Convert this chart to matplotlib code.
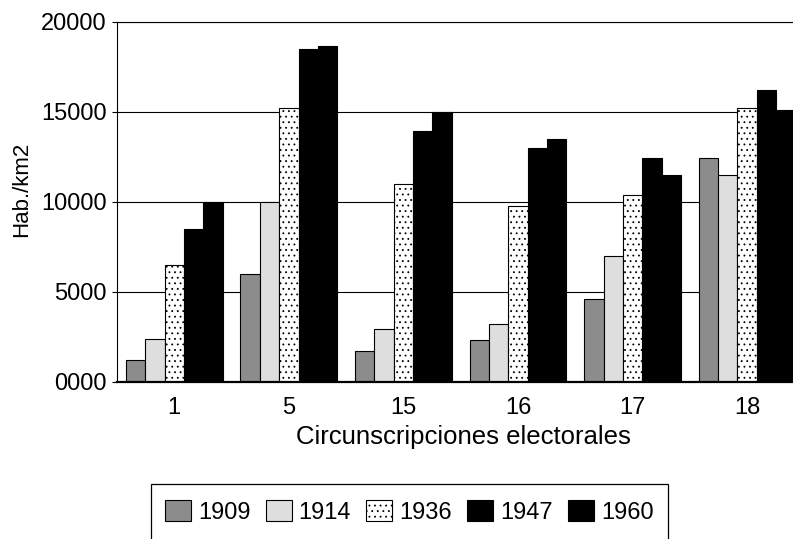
import numpy as np
import matplotlib
matplotlib.use("Agg")
import matplotlib.pyplot as plt
from matplotlib.patches import Rectangle

plt.rcParams['font.family'] = ['Liberation Sans', 'DejaVu Sans']
plt.rcParams['hatch.linewidth'] = 0.6

circunscripciones = ['1', '5', '15', '16', '17', '18']
years = ['1909', '1914', '1936', '1947', '1960']

# Hab./km2 per circunscripcion, one list per year
d1909 = [1200, 6000, 1700, 2350, 4600, 12450]
d1914 = [2400, 10000, 2950, 3200, 7000, 11500]
d1936 = [6500, 15200, 11000, 9750, 10400, 15200]
d1947 = [8500, 18500, 13950, 13000, 12450, 16200]
d1960 = [10000, 18650, 15000, 13500, 11500, 15100]

yticks = [0, 5000, 10000, 15000, 20000]
ytick_labels = ['0000', '5000', '10000', '15000', '20000']

series = [d1909, d1914, d1936, d1947, d1960]
faces = ['#8c8c8c', '#dedede', 'white', 'black', 'black']
hatches = [None, None, '...', None, None]

fig = plt.figure(figsize=(7.93, 5.39), dpi=100)
ax = fig.add_axes([117/793, 1 - 382/539, 1 - 117/793, (382 - 22)/539])

x = np.arange(len(circunscripciones))
w = 0.169
for i, vals in enumerate(series):
    ax.bar(x + (i - 2) * w, vals, width=w, color=faces[i], edgecolor='black',
           linewidth=0.8, hatch=hatches[i], label=years[i], zorder=2)

ax.set_xlim(-0.5, 5.4)
ax.set_ylim(0, 20000)
ax.set_yticks(yticks)
ax.set_yticklabels(ytick_labels)
ax.set_xticks(x)
ax.set_xticklabels(circunscripciones)
ax.tick_params(axis='x', length=0, pad=11, labelsize=17)
ax.tick_params(axis='y', length=3.6, width=0.8, pad=3.6, labelsize=17)
ax.yaxis.grid(True, color='black', linewidth=0.8)
ax.set_axisbelow(True)
ax.spines['right'].set_visible(False)
ax.spines['bottom'].set_linewidth(1.6)
ax.spines['left'].set_linewidth(0.8)
ax.spines['top'].set_linewidth(0.8)

fig.text(22/793, 1 - 189/539, 'Hab./km2', rotation=90, ha='center', va='center', fontsize=16)
fig.text(463/793, 1 - 437/539, 'Circunscripciones electorales', ha='center', va='center', fontsize=18.5)

# legend box runs off the bottom of the page
fig.patches.append(Rectangle((151/793, 1 - 560/539), (668 - 151)/793, (560 - 484)/539,
                             transform=fig.transFigure, facecolor='none',
                             edgecolor='black', linewidth=0.9))
fig.legend(loc='center left', bbox_to_anchor=(165/793, 1 - 512/539), ncol=5,
           fontsize=17, frameon=False, borderpad=0, borderaxespad=0,
           handlelength=1.1, handleheight=1.0, handletextpad=0.3,
           columnspacing=0.64)

fig.savefig('out.png', dpi=100)
